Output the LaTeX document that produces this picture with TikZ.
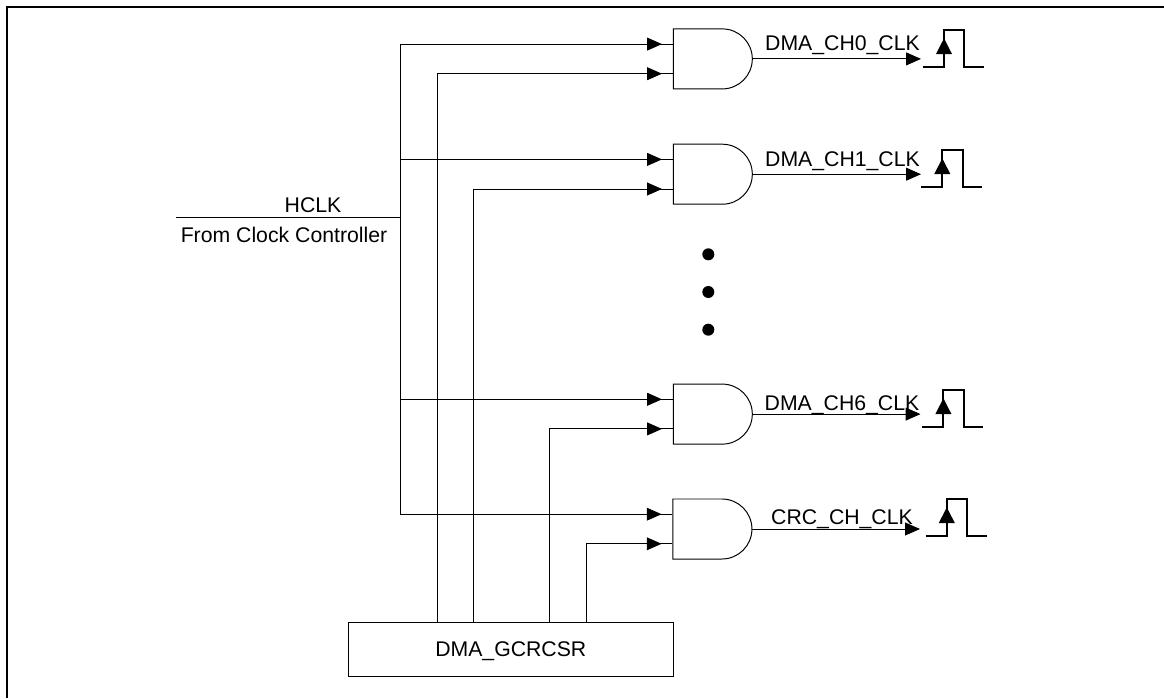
\documentclass[tikz,border=0pt]{standalone}
\usepackage{fontspec}
\setmainfont{Liberation Sans}
\usetikzlibrary{shapes.misc, arrows.meta, decorations.markings}
\tikzset{
  wire/.style={line width=0.7pt, draw=black},
  inarr/.style={wire, postaction={decorate},
                decoration={markings, mark=at position -0.27cm with {\arrow{Triangle[length=0.37cm,width=0.32cm]}}}},
  outarr/.style={wire, -{Triangle[length=0.37cm,width=0.32cm]}},
  gatebox/.style={rounded rectangle, rounded rectangle left arc=none, draw=black, line width=0.7pt,
                  minimum width=1.975cm, minimum height=1.5cm, inner sep=0pt},
  regbox/.style={rectangle, draw=black, line width=0.7pt, minimum width=8.125cm, minimum height=1.34cm,
                 inner sep=0pt, text depth=0pt, font=\fontsize{15.1}{17}\selectfont},
  lbl/.style={anchor=base, inner sep=0pt, font=\fontsize{15.1}{17}\selectfont},
  dotmark/.style={circle, fill=black, minimum size=0.3cm, inner sep=0pt},
  clkpulse/.pic={
    \draw[line width=1.4pt] (-21.3,0) -- (0,0) -- (0,-37.3) -- (20.4,-37.3) -- (20.4,0) -- (40,0);
    \fill (-8,-13.3) -- (8,-13.3) -- (0,-29) -- cycle;
  },
}
\begin{document}
\begin{tikzpicture}[x=0.025cm, y=-0.025cm]
\useasboundingbox (0,0) rectangle (1164,698);
% frame, open on the right and at the bottom
\coordinate (frameA) at (7,698);
\coordinate (frameB) at (7,7);
\coordinate (frameC) at (1164,7);
\draw[line width=1.6pt] (frameA) -- (frameB) -- (frameC);

\node[gatebox] (gateA) at (712.8,58.9) {};
\node[gatebox] (gateB) at (712.8,174.2) {};
\node[gatebox] (gateC) at (712.8,414.1) {};
\node[gatebox] (gateD) at (712.4,529) {};
\node[regbox] (gcrcsr) at (510.8,649.2) {DMA\_GCRCSR};

\node[dotmark] (dotA) at (708.3,254.3) {};
\node[dotmark] (dotB) at (708.3,292) {};
\node[dotmark] (dotC) at (708.3,329.7) {};

% HCLK input and its bus
\coordinate (hclk) at (176,217.3);
\coordinate (bus) at (400.3,217.3);
\draw[wire] (hclk) -- (bus);
\node[lbl] (hclktxt) at (313,212.8) {HCLK};
\node[lbl] (fromtxt) at (284,242.7) {From Clock Controller};
\draw[inarr] (bus) |- ([yshift=0.37cm]gateA.west);
\draw[inarr] (bus) |- ([yshift=0.37cm]gateB.west);
\draw[inarr] (bus) |- ([yshift=0.37cm]gateC.west);
\draw[inarr] (bus) |- ([yshift=0.37cm]gateD.west);

% enable lines from the register
\draw[inarr] ([xshift=-1.83cm]gcrcsr.north) |- ([yshift=-0.37cm]gateA.west);
\draw[inarr] ([xshift=-0.93cm]gcrcsr.north) |- ([yshift=-0.37cm]gateB.west);
\draw[inarr] ([xshift=0.96cm]gcrcsr.north) |- ([yshift=-0.37cm]gateC.west);
\draw[inarr] ([xshift=1.89cm]gcrcsr.north) |- ([yshift=-0.37cm]gateD.west);

% outputs
\coordinate (outA) at (921,58.9);
\coordinate (outB) at (921,174.2);
\coordinate (outC) at (920.5,414.1);
\coordinate (outD) at (920,529);
\draw[outarr] (gateA.east) -- (outA);
\draw[outarr] (gateB.east) -- (outB);
\draw[outarr] (gateC.east) -- (outC);
\draw[outarr] (gateD.east) -- (outD);
\node[lbl] (clkA) at (842.5,50.7) {DMA\_CH0\_CLK};
\node[lbl] (clkB) at (842.5,166) {DMA\_CH1\_CLK};
\node[lbl] (clkC) at (842,410.7) {DMA\_CH6\_CLK};
\node[lbl] (clkD) at (842,524) {CRC\_CH\_CLK};

\pic (pulseA) at (944,67.3) {clkpulse};
\pic (pulseB) at (942.3,187.3) {clkpulse};
\pic (pulseC) at (943.4,427.3) {clkpulse};
\pic (pulseD) at (946.8,536.3) {clkpulse};
\end{tikzpicture}
\end{document}
